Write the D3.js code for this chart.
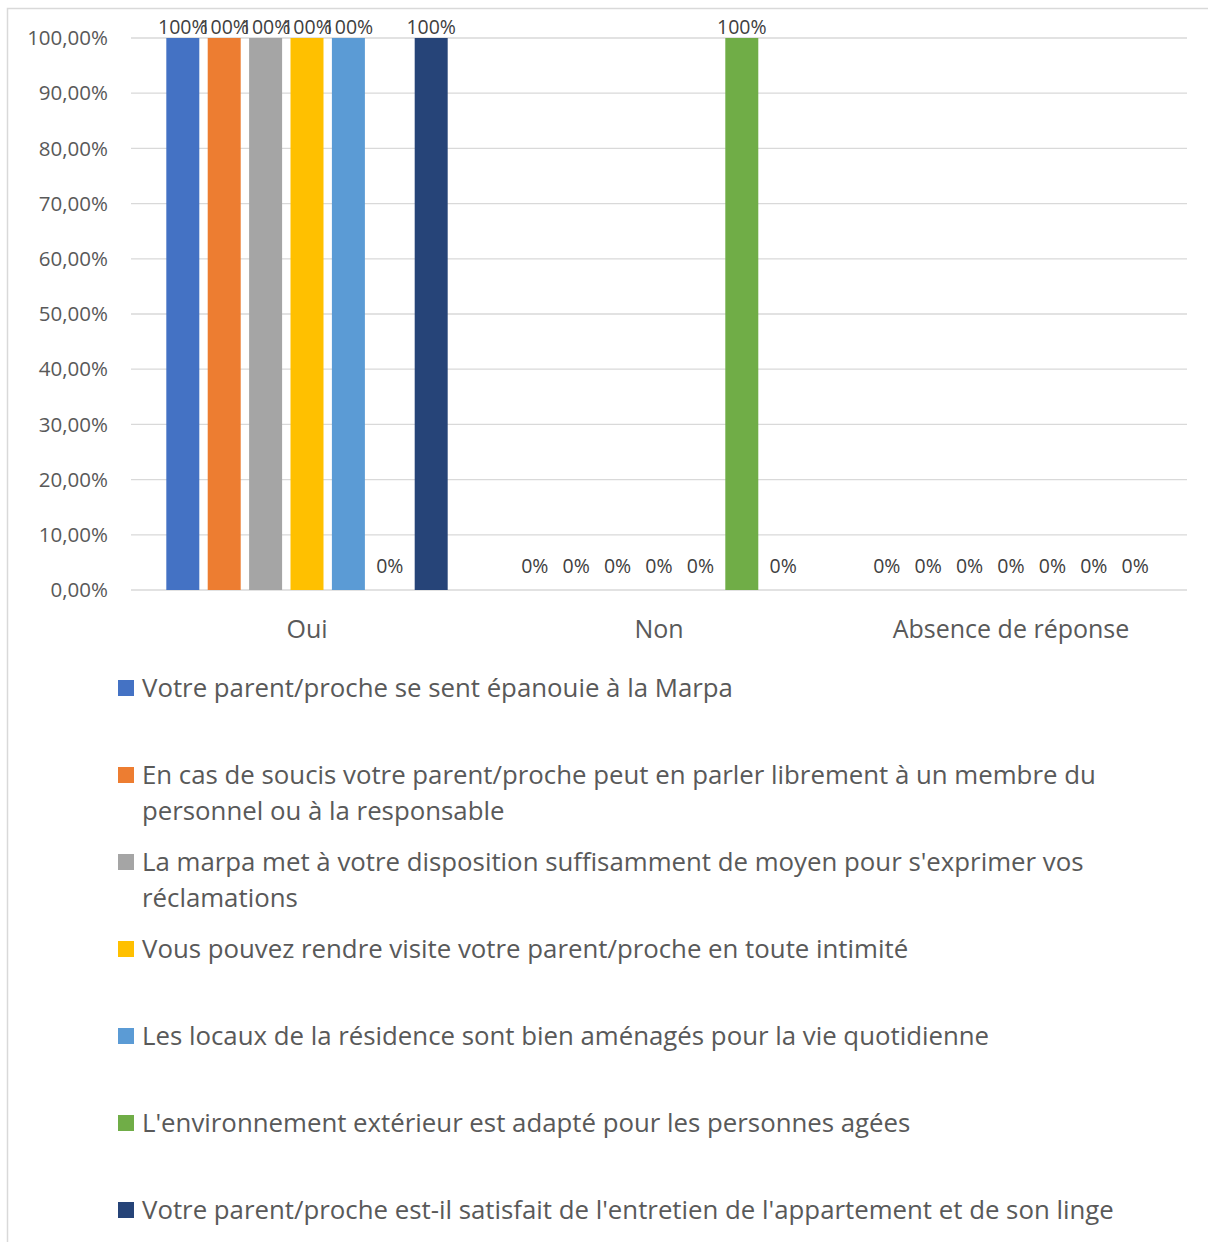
<!DOCTYPE html>
<html>
<head>
<meta charset="utf-8">
<script src="https://cdn.jsdelivr.net/npm/d3@7"></script>
<style>
  body { margin: 0; background: #fff; }
  svg { display: block; font-family: "Open Sans", sans-serif; }
</style>
</head>
<body>
<div id="chart"></div>
<script>
// Categories on the x axis
const categories = ["Oui", "Non", "Absence de réponse"];

// Series names (legend)
const seriesNames = [
  "Votre parent/proche se sent épanouie à la Marpa",
  "En cas de soucis votre parent/proche peut en parler librement à un membre du personnel ou à la responsable",
  "La marpa met à votre disposition suffisamment de moyen pour s'exprimer vos réclamations",
  "Vous pouvez rendre visite votre parent/proche en toute intimité",
  "Les locaux de la résidence sont bien aménagés pour la vie quotidienne",
  "L'environnement extérieur est adapté pour les personnes agées",
  "Votre parent/proche est-il satisfait de l'entretien de l'appartement et de son linge"
];

// Values per series: [Oui, Non, Absence de réponse]
const s1 = [1, 0, 0];
const s2 = [1, 0, 0];
const s3 = [1, 0, 0];
const s4 = [1, 0, 0];
const s5 = [1, 0, 0];
const s6 = [0, 1, 0];
const s7 = [1, 0, 0];
const seriesValues = [s1, s2, s3, s4, s5, s6, s7];

const colors = ["#4472C4", "#ED7D31", "#A5A5A5", "#FFC000", "#5B9BD5", "#70AD47", "#264478"];

const yTicks = [0, 0.1, 0.2, 0.3, 0.4, 0.5, 0.6, 0.7, 0.8, 0.9, 1];

const width = 1208, height = 1242;
const plot = { left: 131, right: 1187, top: 38, bottom: 590 };

const svg = d3.select("#chart").append("svg")
  .attr("width", width)
  .attr("height", height);

// chart border (only left/top visible in frame)
svg.append("rect")
  .attr("x", 7.5).attr("y", 8.5)
  .attr("width", width + 20).attr("height", height + 20)
  .attr("fill", "#fff")
  .attr("stroke", "#d9d9d9")
  .attr("stroke-width", 1.5);

const y = d3.scaleLinear().domain([0, 1]).range([plot.bottom, plot.top]);

const x0 = d3.scaleBand()
  .domain(categories)
  .range([plot.left, plot.right]);

const x1 = d3.scaleBand()
  .domain(d3.range(seriesNames.length))
  .range([0, x0.bandwidth()])
  .paddingInner(0.203)
  .paddingOuter(0.853);

const fmtTick = (d) => d3.format(".2f")(d * 100).replace(".", ",") + "%";

// gridlines
svg.append("g")
  .selectAll("line")
  .data(yTicks)
  .join("line")
  .attr("x1", plot.left)
  .attr("x2", plot.right)
  .attr("y1", (d) => y(d))
  .attr("y2", (d) => y(d))
  .attr("stroke", "#d9d9d9")
  .attr("stroke-width", 1.3);

// y tick labels
svg.append("g")
  .selectAll("text")
  .data(yTicks)
  .join("text")
  .attr("x", 108)
  .attr("y", (d) => y(d))
  .attr("dy", "0.35em")
  .attr("text-anchor", "end")
  .attr("font-size", 20.5)
  .attr("fill", "#595959")
  .text(fmtTick);

// bars
const groups = svg.append("g")
  .selectAll("g")
  .data(seriesValues)
  .join("g")
  .attr("fill", (d, i) => colors[i]);

groups.selectAll("rect")
  .data((vals, si) => vals.map((v, ci) => ({ v, si, ci })))
  .join("rect")
  .attr("x", (d) => x0(categories[d.ci]) + x1(d.si))
  .attr("width", x1.bandwidth())
  .attr("y", (d) => y(d.v))
  .attr("height", (d) => y(0) - y(d.v));

// data labels (the 100% ones overlap in the original too)
groups.selectAll("text")
  .data((vals, si) => vals.map((v, ci) => ({ v, si, ci })))
  .join("text")
  .attr("x", (d) => x0(categories[d.ci]) + x1(d.si) + x1.bandwidth() / 2)
  .attr("y", (d) => Math.max(y(d.v) - 17, plot.top - 4))
  .attr("text-anchor", "middle")
  .attr("font-size", 19.5)
  .attr("fill", "#404040")
  .text((d) => Math.round(d.v * 100) + "%");

// category labels
svg.append("g")
  .selectAll("text")
  .data(categories)
  .join("text")
  .attr("x", (d) => x0(d) + x0.bandwidth() / 2)
  .attr("y", 629)
  .attr("dy", "0.35em")
  .attr("text-anchor", "middle")
  .attr("font-size", 25)
  .attr("fill", "#595959")
  .text((d) => d);

// legend
const legendTop = 688, legendStep = 87, lineH = 36, maxTextW = 1010;
const legend = svg.append("g")
  .selectAll("g")
  .data(seriesNames)
  .join("g")
  .attr("transform", (d, i) => `translate(0,${legendTop + i * legendStep})`);

legend.append("rect")
  .attr("x", 118).attr("y", -8)
  .attr("width", 16).attr("height", 16)
  .attr("fill", (d, i) => colors[i]);

legend.append("text")
  .attr("x", 142)
  .attr("y", 0)
  .attr("dy", "0.35em")
  .attr("font-size", 25.8)
  .attr("fill", "#595959")
  .each(function (d) {
    const t = d3.select(this);
    const words = d.split(" ");
    let line = [];
    let lineNo = 0;
    let tspan = t.append("tspan").attr("x", 142).attr("y", 0).attr("dy", "0.35em");
    for (const w of words) {
      line.push(w);
      tspan.text(line.join(" "));
      if (tspan.node().getComputedTextLength() > maxTextW && line.length > 1) {
        line.pop();
        tspan.text(line.join(" "));
        line = [w];
        lineNo++;
        tspan = t.append("tspan").attr("x", 142).attr("y", lineNo * lineH).attr("dy", "0.35em").text(w);
      }
    }
  });
</script>
</body>
</html>
